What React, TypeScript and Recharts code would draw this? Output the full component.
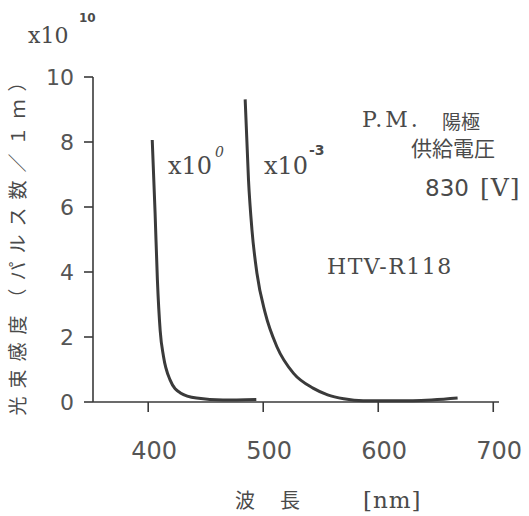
import React from "react";
import { LineChart, Line, XAxis, YAxis } from "recharts";

const xTicks = [400, 500, 600, 700];
const yTicks = [0, 2, 4, 6, 8, 10];

// x10^0 curve (wavelength nm, sensitivity)
const seriesA = [
  { wl: 403.5, v: 8.06 },
  { wl: 406, v: 5.8 },
  { wl: 408, v: 3.75 },
  { wl: 410.4, v: 2.2 },
  { wl: 413.3, v: 1.4 },
  { wl: 419, v: 0.68 },
  { wl: 428, v: 0.28 },
  { wl: 442, v: 0.12 },
  { wl: 465, v: 0.06 },
  { wl: 494, v: 0.08 },
];

// x10^-3 curve
const seriesB = [
  { wl: 484.3, v: 9.31 },
  { wl: 487.2, v: 6.83 },
  { wl: 490.2, v: 5.3 },
  { wl: 494.5, v: 3.97 },
  { wl: 501.7, v: 2.74 },
  { wl: 511.9, v: 1.7 },
  { wl: 526.4, v: 0.88 },
  { wl: 543.7, v: 0.42 },
  { wl: 556, v: 0.22 },
  { wl: 570, v: 0.1 },
  { wl: 587, v: 0.04 },
  { wl: 630, v: 0.04 },
  { wl: 669, v: 0.12 },
];

const ink = "#3a3a3a";
const txt = "#4a4a4a";
const serif = "'DejaVu Serif', serif";
const sans = "'DejaVu Sans', sans-serif";
const cjk = "'Noto Sans CJK JP', sans-serif";

export default function App() {
  return (
    <div style={{ position: "absolute", left: 0, top: 0, width: 529, height: 516, background: "#fff" }}>
      <LineChart
        width={529}
        height={516}
        margin={{ top: 77, right: 30, bottom: 54, left: 33 }}
      >
        <XAxis
          type="number"
          dataKey="wl"
          domain={[352, 705]}
          ticks={xTicks}
          allowDataOverflow
          height={60}
          tickSize={10}
          tickMargin={30}
          stroke={ink}
          strokeWidth={1.6}
          tick={{ fill: "#555", fontSize: 24, fontFamily: sans, dx: 6 }}
        />
        <YAxis
          type="number"
          domain={[0, 10]}
          ticks={yTicks}
          width={60}
          tickSize={9}
          tickMargin={10}
          stroke={ink}
          strokeWidth={1.6}
          tick={{ fill: "#555", fontSize: 22, fontFamily: sans }}
        />
        <Line
          data={seriesA}
          dataKey="v"
          type="monotone"
          stroke={ink}
          strokeWidth={3}
          dot={false}
          isAnimationActive={false}
        />
        <Line
          data={seriesB}
          dataKey="v"
          type="monotone"
          stroke={ink}
          strokeWidth={3}
          dot={false}
          isAnimationActive={false}
        />
      </LineChart>
      <svg
        width={529}
        height={516}
        style={{ position: "absolute", left: 0, top: 0, pointerEvents: "none" }}
      >
        {/* x10^10 */}
        <text x={28} y={43} fontFamily={serif} fontSize={22} fill={txt}>x10</text>
        <text x={79} y={22} fontFamily={sans} fontSize={12} fontWeight="bold" fill={txt}>10</text>

        {/* y label */}
        <text
          transform="translate(25,240) rotate(-90)"
          textAnchor="middle"
          fontFamily={cjk}
          fontSize={19}
          letterSpacing={8}
          fill={txt}
        >
          光束感度（パルス数／１ｍ）
        </text>

        {/* x10^0 */}
        <text x={168} y={174} fontFamily={serif} fontSize={24} fill={txt}>x10</text>
        <text x={215} y={157} fontFamily={serif} fontSize={14} fontStyle="italic" fill={txt}>0</text>
        {/* x10^-3 */}
        <text x={264} y={174} fontFamily={serif} fontSize={24} fill={txt}>x10</text>
        <text x={309} y={155} fontFamily={sans} fontSize={14} fontWeight="bold" fill={txt}>-3</text>

        {/* right annotations */}
        <text x={362} y={127} fontFamily={serif} fontSize={22} letterSpacing={3} fill={txt}>P.M.</text>
        <text x={442} y={129} fontFamily={cjk} fontSize={19} fill={txt}>陽極</text>
        <text x={411} y={156} fontFamily={cjk} fontSize={21} fill={txt}>供給電圧</text>
        <text x={425} y={196} fill={txt}>
          <tspan fontFamily={sans} fontSize={23}>830</tspan>
          <tspan fontFamily={serif} fontSize={25} dx={11} letterSpacing={1}>[V]</tspan>
        </text>
        <text x={327} y={274} fontFamily={serif} fontSize={22} letterSpacing={1.5} fill={txt}>HTV-R118</text>

        {/* x label */}
        <text x={235} y={508} fontFamily={cjk} fontSize={20} fill={txt}>波</text>
        <text x={280} y={508} fontFamily={cjk} fontSize={20} fill={txt}>長</text>
        <text x={363} y={508} fontFamily={serif} fontSize={23} letterSpacing={1} fill={txt}>[nm]</text>
      </svg>
    </div>
  );
}
